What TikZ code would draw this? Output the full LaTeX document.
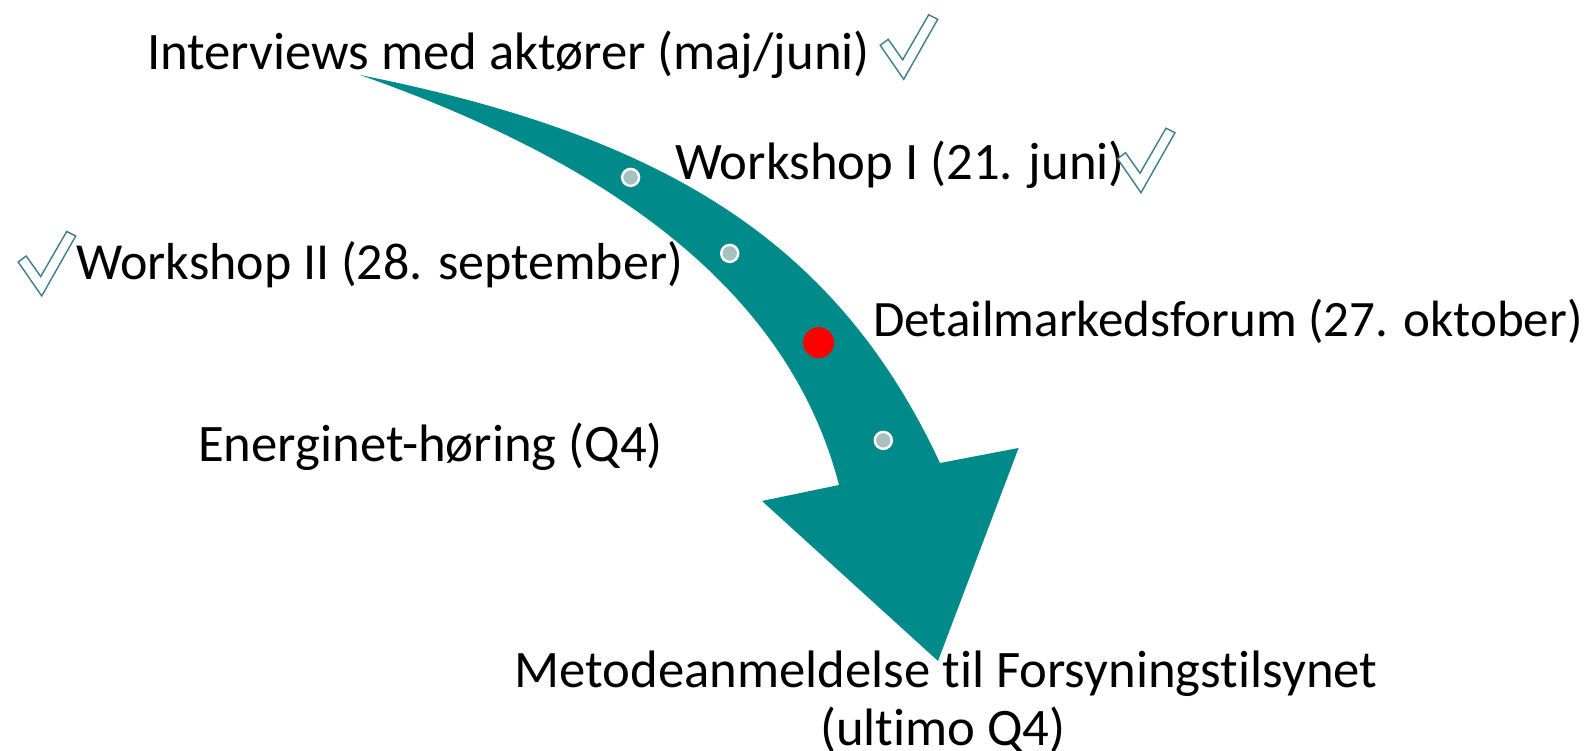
\documentclass[tikz,border=0pt]{standalone}
\usepackage{fontspec}
\setmainfont[Ligatures={NoCommon,NoRare}]{Carlito}
\definecolor{flowteal}{RGB}{0,139,138}
\definecolor{dotgray}{RGB}{168,192,192}
\definecolor{tickteal}{RGB}{62,125,138}
\begin{document}
\begin{tikzpicture}[x=1pt,y=-1pt,
  label/.style={anchor=base west,inner sep=0pt,font=\fontsize{52.7}{62}\selectfont},
  milestone/.style={circle,fill=dotgray,draw=white,line width=2.4pt,minimum size=17pt,inner sep=0pt},
  current/.style={circle,fill=red,minimum size=31pt,inner sep=0pt},
  tickline/.style={draw=tickteal,fill=white,line width=1.4pt,line join=miter},
  checkmark/.pic={\path[tickline] (-23.5,-34) -- (-15.5,-40) -- (-1,-19.5) -- (25,-64.5) -- (34,-60) -- (0,0) -- cycle;}]
\useasboundingbox (0,0) rectangle (1591,751);
\fill[white] (0,0) rectangle (1591,751);

% curved process arrow: outer edge, head, inner edge back to the tail
\fill[flowteal]
  (360,75) .. controls (660,135) and (835,238) .. (940,463)
  -- (1018.6,448) -- (938,661) -- (762,501) -- (839,485)
  .. controls (786.5,281.3) and (595,157.5) .. (360,75)
  -- cycle;

% milestones along the arrow
\node[milestone] (m1) at (630.6,177.4) {};
\node[milestone] (m2) at (729.7,253.4) {};
\node[current]   (m3) at (818.6,342.7) {};
\node[milestone] (m4) at (883.3,440.4) {};

% labels
\node[label] (t1) at (147,70) {Interviews med aktører (maj/juni)};
\node[label] (t2) at (675,180) {Workshop I (21. juni)};
\node[label,font=\fontsize{52}{62}\selectfont] (t3) at (76,280) {Workshop II (28. september)};
\node[label,font=\fontsize{51}{62}\selectfont] (t4) at (873,337) {Detailmarkedsforum (27. oktober)};
\node[label] (t5) at (198,461) {Energinet-høring (Q4)};
\node[label,anchor=base] (t6) at (946,687) {Metodeanmeldelse til Forsyningstilsynet};
\node[label,anchor=base] (t7) at (943,745) {(ultimo Q4)};

% completed marks
\pic at (903.7,79.3) {checkmark};
\pic at (1141,192.7) {checkmark};
\pic at (41.7,296) {checkmark};
\end{tikzpicture}
\end{document}
